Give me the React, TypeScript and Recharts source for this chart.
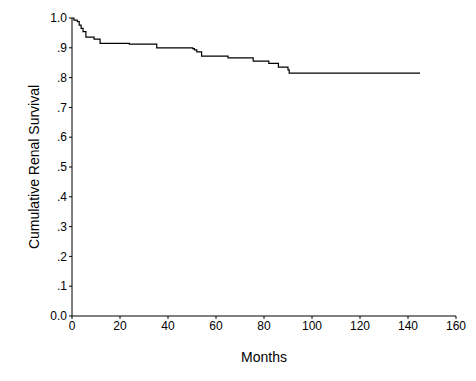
import { LineChart, Line, XAxis, YAxis, Label } from "recharts";

// Kaplan-Meier style step curve
const months = [0, 0.8, 2.2, 3, 3.8, 4.6, 5.8, 9.2, 11.7, 23.9, 35.3, 50.3, 51, 52, 54, 65, 75.5, 82, 86, 90, 90.5, 145];
const survival = [1.0, 0.993, 0.988, 0.976, 0.965, 0.954, 0.936, 0.929, 0.915, 0.912, 0.9, 0.897, 0.893, 0.886, 0.872, 0.866, 0.855, 0.848, 0.835, 0.826, 0.815, 0.815];

const xTicks = [0, 20, 40, 60, 80, 100, 120, 140, 160];
const yTicks = [0, 0.1, 0.2, 0.3, 0.4, 0.5, 0.6, 0.7, 0.8, 0.9, 1.0];

const font = "Arial, 'Liberation Sans', sans-serif";

function formatY(v: number) {
    if (v === 0) return "0.0";
    if (v === 1) return "1.0";
    return "." + Math.round(v * 10);
}

export default function App() {
    const data = months.map((m, i) => ({ month: m, survival: survival[i] }));

    return (
        <div style={{ position: "absolute", left: 0, top: 0, width: 476, height: 381, background: "#fff" }}>
            <LineChart width={476} height={381} data={data} margin={{ top: 18, right: 20, left: 0, bottom: 5 }}>
                <XAxis
                    dataKey="month"
                    type="number"
                    domain={[0, 160]}
                    ticks={xTicks}
                    height={60}
                    tickSize={3}
                    stroke="#000"
                    axisLine={{ stroke: "#000" }}
                    tickLine={{ stroke: "#000" }}
                    tick={{ fill: "#000", fontSize: 12, fontFamily: font }}
                >
                    <Label
                        content={({ viewBox }: any) => (
                            <text
                                x={viewBox.x + viewBox.width / 2}
                                y={357}
                                textAnchor="middle"
                                dominantBaseline="central"
                                fontSize={14}
                                fontFamily={font}
                                fill="#000"
                            >
                                Months
                            </text>
                        )}
                    />
                </XAxis>
                <YAxis
                    type="number"
                    domain={[0, 1]}
                    ticks={yTicks}
                    width={72}
                    tickSize={3}
                    tickFormatter={formatY}
                    stroke="#000"
                    axisLine={{ stroke: "#000" }}
                    tickLine={{ stroke: "#000" }}
                    tick={{ fill: "#000", fontSize: 12, fontFamily: font }}
                >
                    <Label
                        content={({ viewBox }: any) => {
                            const cx = 34;
                            const cy = viewBox.y + viewBox.height / 2;
                            return (
                                <text
                                    x={cx}
                                    y={cy}
                                    transform={`rotate(-90, ${cx}, ${cy})`}
                                    textAnchor="middle"
                                    dominantBaseline="central"
                                    fontSize={14}
                                    fontFamily={font}
                                    fill="#000"
                                >
                                    Cumulative Renal Survival
                                </text>
                            );
                        }}
                    />
                </YAxis>
                <Line
                    type="stepAfter"
                    dataKey="survival"
                    stroke="#000"
                    strokeWidth={1.2}
                    dot={false}
                    activeDot={false}
                    isAnimationActive={false}
                />
            </LineChart>
        </div>
    );
}
